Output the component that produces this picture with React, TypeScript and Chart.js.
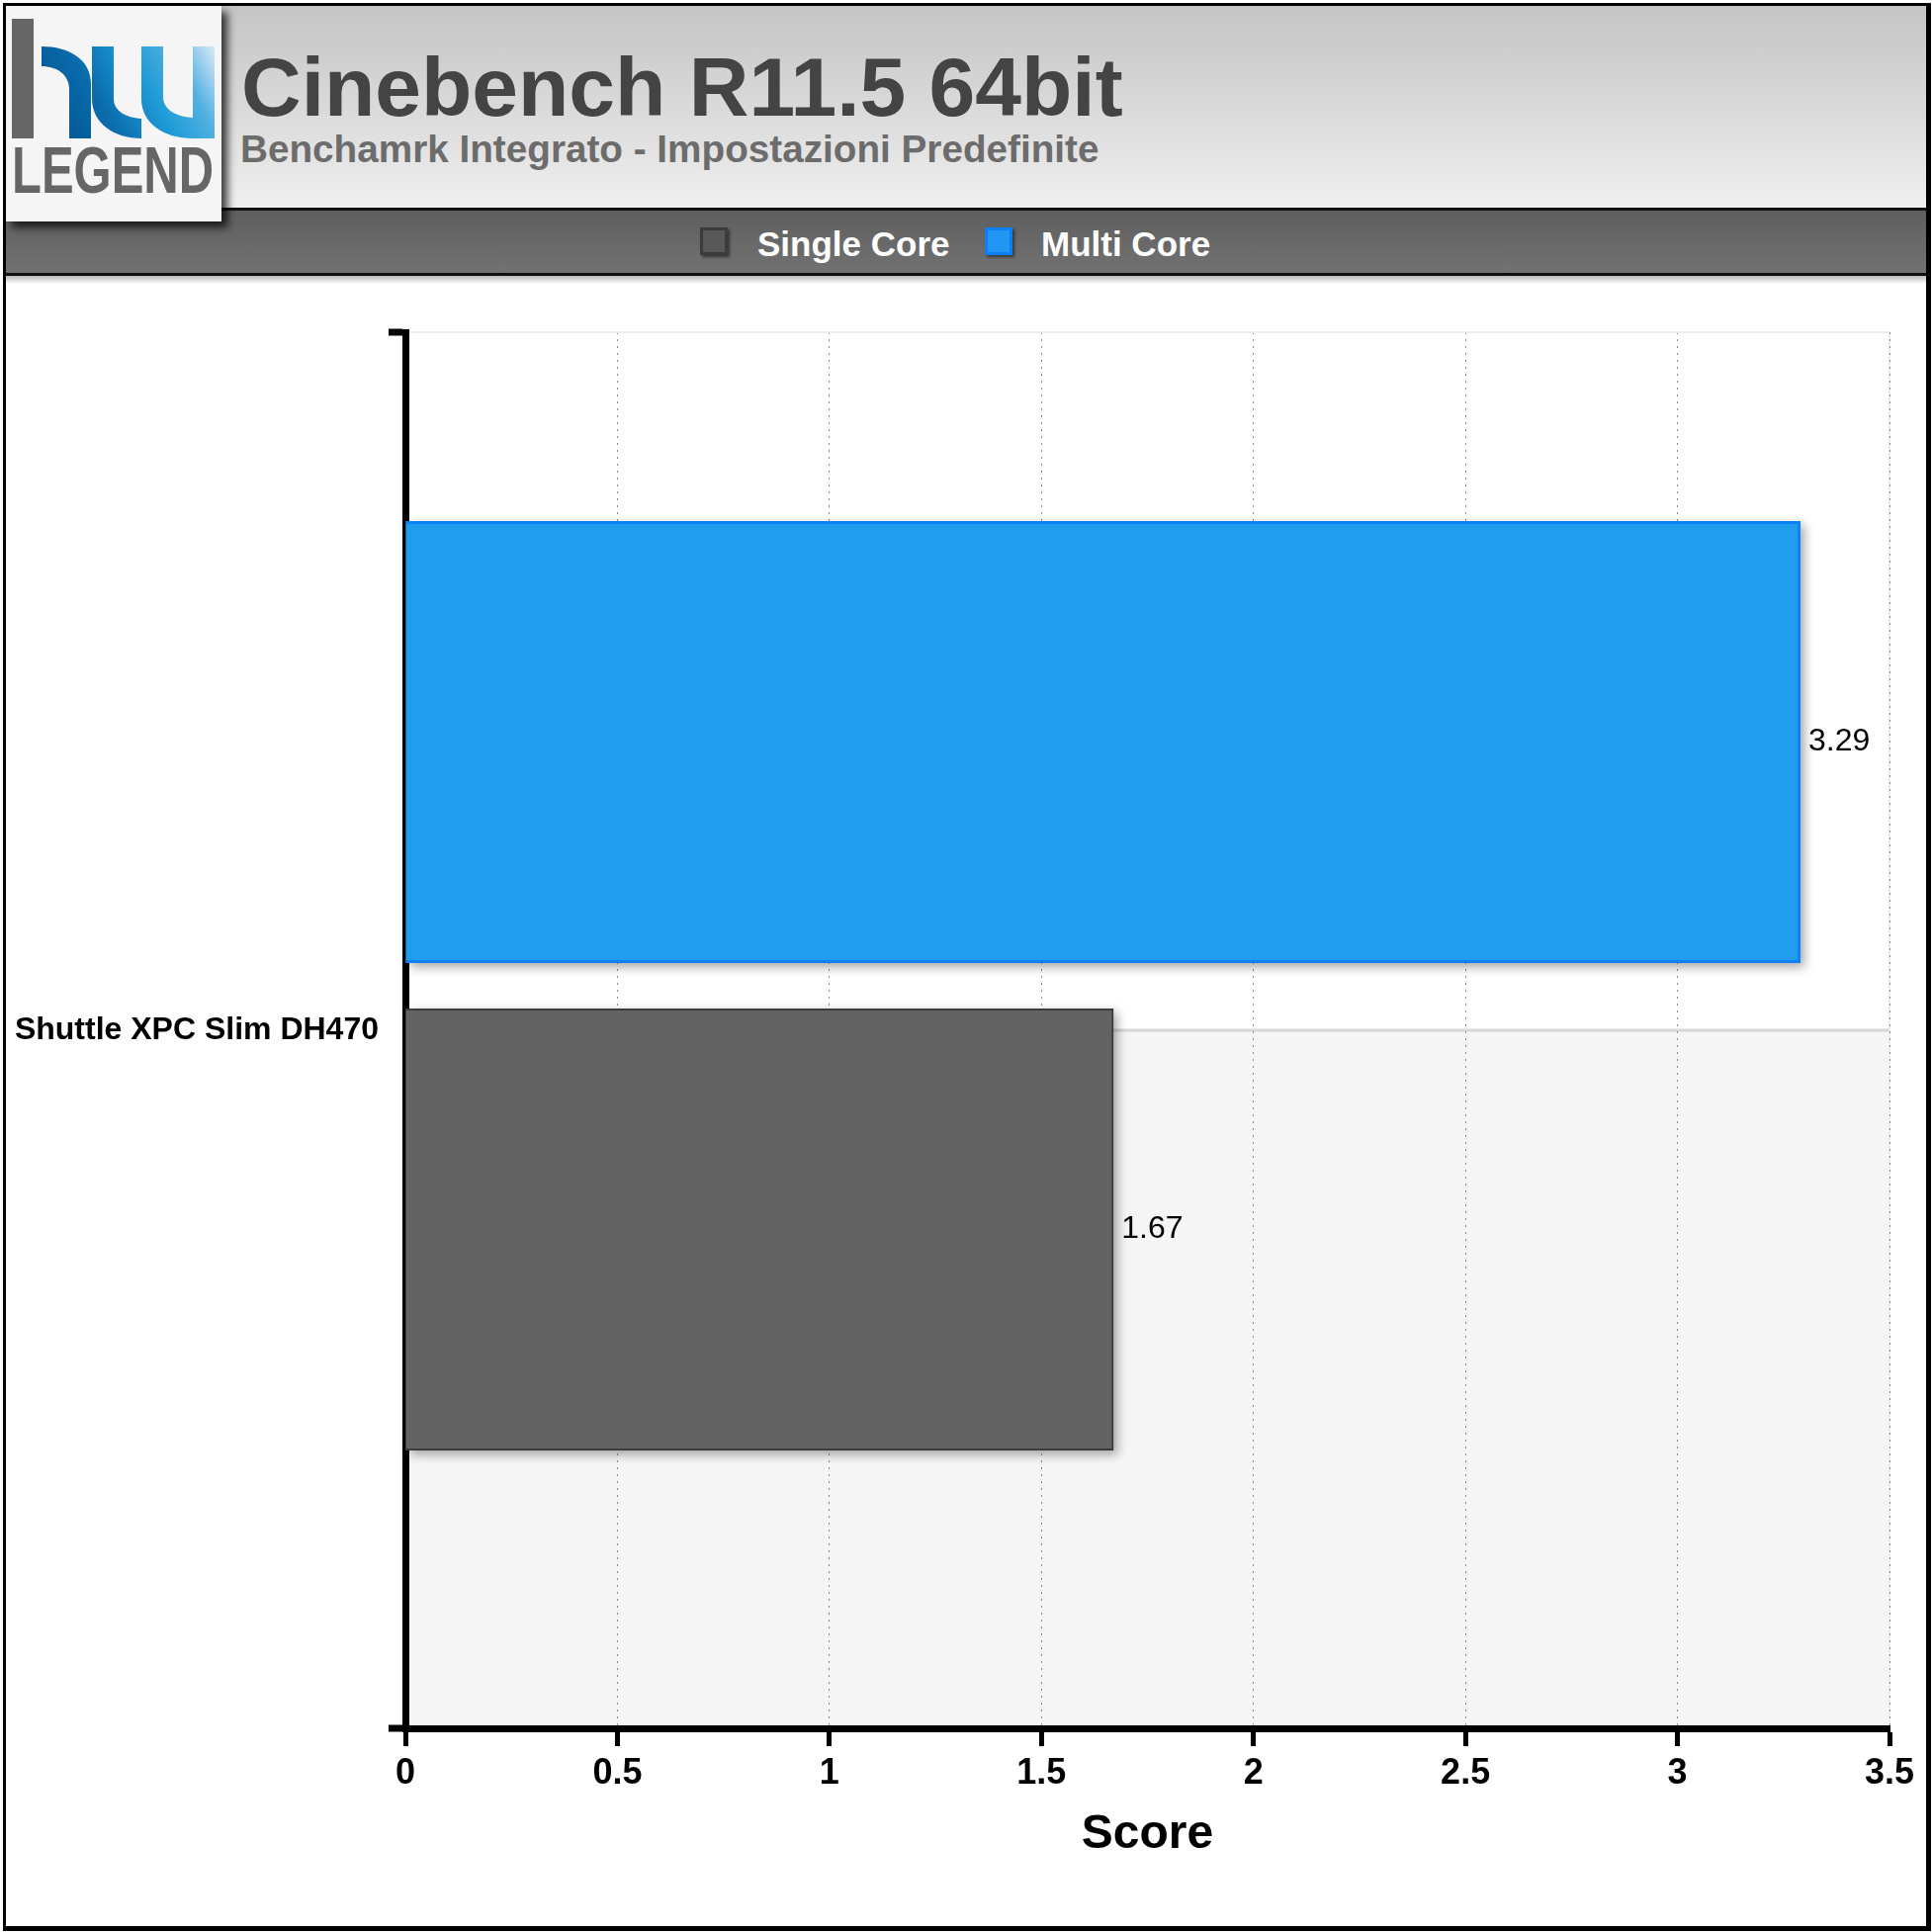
import React, { useEffect, useRef } from 'react';
import { Chart, registerables } from 'chart.js';

Chart.register(...registerables);

// ---------- data ----------
const categories = ['Shuttle XPC Slim DH470'];
const seriesNames = ['Multi Core', 'Single Core'];
const multiCore = [3.29];
const singleCore = [1.67];
const xTicks = [0, 0.5, 1, 1.5, 2, 2.5, 3, 3.5];
const xTickLabels = ['0', '0.5', '1', '1.5', '2', '2.5', '3', '3.5'];
const legendLabels = ['Single Core', 'Multi Core'];
const titleText = 'Cinebench R11.5 64bit';
const subtitleText = 'Benchamrk Integrato - Impostazioni Predefinite';
const axisTitle = 'Score';
const logoText = 'LEGEND';

// ---------- styles ----------
const FONT = '"Liberation Sans", Arial, Helvetica, sans-serif';
const MULTI_BG = '#219dee';
const MULTI_BORDER = '#0d82f4';
const SINGLE_BG = '#636363';
const SINGLE_BORDER = '#3d3d3d';

const decorPlugin = {
  id: 'decor',
  beforeDraw(chart: any) {
    const { ctx, chartArea: a, scales } = chart;
    const yc = scales.y.getPixelForValue(0);
    ctx.save();
    ctx.fillStyle = '#f5f5f5';
    ctx.fillRect(a.left, yc, a.right - a.left, a.bottom - yc);
    ctx.strokeStyle = '#d5d5d5';
    ctx.lineWidth = 3;
    ctx.beginPath();
    ctx.moveTo(a.left, yc);
    ctx.lineTo(a.right, yc);
    ctx.stroke();
    ctx.strokeStyle = '#ececec';
    ctx.lineWidth = 2;
    ctx.beginPath();
    ctx.moveTo(a.right, a.top);
    ctx.lineTo(a.right, a.bottom);
    ctx.stroke();
    ctx.restore();
  },
  beforeDatasetsDraw(chart: any) {
    const { ctx } = chart;
    chart.data.datasets.forEach((ds: any, i: number) => {
      const meta = chart.getDatasetMeta(i);
      meta.data.forEach((el: any) => {
        const { x, y, base, height } = el.getProps(['x', 'y', 'base', 'height'], true);
        ctx.save();
        ctx.shadowColor = 'rgba(0,0,0,0.35)';
        ctx.shadowBlur = 10;
        ctx.shadowOffsetX = 4;
        ctx.shadowOffsetY = 4;
        ctx.fillStyle = ds.backgroundColor;
        ctx.fillRect(Math.min(base, x), y - height / 2, Math.abs(x - base), height);
        ctx.restore();
      });
    });
  },
  afterDatasetsDraw(chart: any) {
    const { ctx } = chart;
    ctx.save();
    ctx.font = `32px ${FONT}`;
    ctx.fillStyle = '#000';
    ctx.textAlign = 'left';
    ctx.textBaseline = 'middle';
    chart.data.datasets.forEach((ds: any, i: number) => {
      const meta = chart.getDatasetMeta(i);
      meta.data.forEach((el: any, j: number) => {
        const v = ds.data[j];
        ctx.fillText(Number(v).toFixed(2), el.x + 8, el.y);
      });
    });
    ctx.restore();
  },
};

export default function App() {
  const ref = useRef<HTMLCanvasElement>(null);

  useEffect(() => {
    document.body.style.margin = '0';
    const canvas = ref.current;
    if (!canvas) return;
    Chart.defaults.font.family = FONT;
    const chart = new Chart(canvas, {
      type: 'bar',
      data: {
        labels: categories,
        datasets: [
          {
            label: seriesNames[0],
            data: multiCore,
            backgroundColor: MULTI_BG,
            borderColor: MULTI_BORDER,
            borderWidth: 3,
            yAxisID: 'yb',
            xAxisID: 'x',
            categoryPercentage: 0.7458,
            barPercentage: 0.9067,
          },
          {
            label: seriesNames[1],
            data: singleCore,
            backgroundColor: SINGLE_BG,
            borderColor: SINGLE_BORDER,
            borderWidth: 2,
            yAxisID: 'yb',
            xAxisID: 'x',
            categoryPercentage: 0.7458,
            barPercentage: 0.9067,
          },
        ],
      },
      options: {
        indexAxis: 'y',
        responsive: false,
        animation: false,
        devicePixelRatio: 1,
        layout: { padding: { top: 54, right: 37, bottom: 0, left: 0 } },
        plugins: {
          legend: { display: false },
          tooltip: { enabled: false },
        },
        scales: {
          x: {
            type: 'linear',
            position: 'bottom',
            min: xTicks[0],
            max: xTicks[xTicks.length - 1],
            afterBuildTicks: (s: any) => {
              s.ticks = xTicks.map((v) => ({ value: v }));
            },
            grid: {
              color: '#8a8a8a',
              lineWidth: 1,
              drawTicks: true,
              tickLength: 18,
              tickColor: '#000',
              tickWidth: 5,
              tickBorderDash: [],
            },
            border: { color: '#000', width: 7, dash: [2, 5] },
            ticks: {
              font: { size: 36, weight: 'bold' },
              color: '#000',
              padding: 6,
              callback: (value: any) => {
                const i = xTicks.indexOf(Number(value));
                return i >= 0 ? xTickLabels[i] : String(value);
              },
            },
            title: {
              display: true,
              text: axisTitle,
              font: { size: 48, weight: 'bold' },
              color: '#000',
              padding: { top: 0, bottom: 63 },
            },
            afterFit: (s: any) => {
              s.height = 200;
            },
          },
          y: {
            type: 'category',
            position: 'left',
            offset: true,
            weight: 0,
            grid: {
              offset: true,
              color: '#ececec',
              lineWidth: 2,
              drawTicks: true,
              tickLength: 17,
              tickColor: '#000',
              tickWidth: 7,
            },
            border: { color: '#000', width: 7 },
            ticks: {
              font: { size: 32, weight: 'bold' },
              color: '#000',
              padding: 10,
            },
            afterFit: (s: any) => {
              s.width = 403;
            },
          },
          yb: {
            type: 'category',
            position: 'left',
            display: false,
            offset: true,
            stack: 'bars',
            stackWeight: 1322,
            weight: 2,
          },
          yc: {
            type: 'category',
            position: 'left',
            display: false,
            offset: true,
            stack: 'bars',
            stackWeight: 90,
            weight: 1,
          },
        },
      } as any,
      plugins: [decorPlugin],
    });
    return () => chart.destroy();
  }, []);

  return (
    <div style={{ position: 'absolute', left: 0, top: 0, width: 1954, height: 1954, background: '#fff', fontFamily: FONT }}>
      <svg width={1954} height={292} style={{ position: 'absolute', left: 0, top: 0 }}>
        <defs>
          <linearGradient id="hdr" x1="0" y1="0" x2="0" y2="1">
            <stop offset="0" stopColor="#c4c4c4" />
            <stop offset="1" stopColor="#efefef" />
          </linearGradient>
          <linearGradient id="lbar" x1="0" y1="0" x2="0" y2="1">
            <stop offset="0" stopColor="#5e5e5e" />
            <stop offset="1" stopColor="#727272" />
          </linearGradient>
          <linearGradient id="shd" x1="0" y1="0" x2="0" y2="1">
            <stop offset="0" stopColor="rgba(0,0,0,0.28)" />
            <stop offset="1" stopColor="rgba(0,0,0,0)" />
          </linearGradient>
          <linearGradient id="logoBlue" gradientUnits="userSpaceOnUse" x1="42" y1="140" x2="217" y2="47">
            <stop offset="0" stopColor="#004f88" />
            <stop offset="0.35" stopColor="#0a6cad" />
            <stop offset="0.6" stopColor="#1e9ad6" />
            <stop offset="0.8" stopColor="#52b1e1" />
            <stop offset="1" stopColor="#dbe9f8" />
          </linearGradient>
          <filter id="logoShadow" x="-10%" y="-10%" width="140%" height="140%">
            <feDropShadow dx="6" dy="6" stdDeviation="4" floodColor="#000" floodOpacity="0.75" />
          </filter>
          <filter id="sqShadow" x="-30%" y="-30%" width="180%" height="180%">
            <feDropShadow dx="2" dy="2" stdDeviation="1.5" floodColor="#000" floodOpacity="0.5" />
          </filter>
        </defs>
        <rect x={6} y={6} width={1942} height={204} fill="url(#hdr)" />
        <rect x={6} y={210} width={1942} height={3} fill="#111" />
        <rect x={6} y={213} width={1942} height={63} fill="url(#lbar)" />
        <rect x={6} y={276} width={1942} height={3} fill="#111" />
        <rect x={6} y={279} width={1942} height={8} fill="url(#shd)" />

        <rect x={6} y={6} width={218} height={218} fill="#f5f5f5" filter="url(#logoShadow)" />
        <rect x={12} y={19} width={22} height={121} fill="#666" />
        <path d="M42,47 C70,47 92,60 92,85 L92,140 L70,140 L70,90 C70,76 58,67 42,67 Z" fill="url(#logoBlue)" />
        <path d="M93,47 L115,47 L115,100 C115,112 127,119 143,120 L143,140 C115,140 93,124 93,100 Z" fill="url(#logoBlue)" />
        <path d="M143,47 L165,47 L165,98 C165,110 177,118 195,119 L195,140 C165,140 143,124 143,100 Z" fill="url(#logoBlue)" />
        <rect x={195} y={47} width={22} height={93} fill="url(#logoBlue)" />
        <text x={12} y={195} fontSize={66} fontWeight="bold" fill="#666" textLength={204} lengthAdjust="spacingAndGlyphs" style={{ fontFamily: FONT }}>
          {logoText}
        </text>

        <text x={244} y={117} fontSize={84} fontWeight="bold" fill="#444" style={{ fontFamily: FONT }}>
          {titleText}
        </text>
        <text x={243} y={164} fontSize={38.7} fontWeight="bold" fill="#6c6c6c" style={{ fontFamily: FONT }}>
          {subtitleText}
        </text>

        <rect x={709.5} y={231.5} width={25} height={25} fill={'#595959'} stroke="#3a3a3a" strokeWidth={3} filter="url(#sqShadow)" />
        <text x={766} y={259} fontSize={35} fontWeight="bold" fill="#fff" style={{ fontFamily: FONT }}>
          {legendLabels[0]}
        </text>
        <rect x={997.5} y={231.5} width={25} height={25} fill={'#2196f3'} stroke="#0b7ff2" strokeWidth={3} filter="url(#sqShadow)" />
        <text x={1053} y={259} fontSize={35} fontWeight="bold" fill="#fff" style={{ fontFamily: FONT }}>
          {legendLabels[1]}
        </text>
      </svg>

      <canvas
        ref={ref}
        width={1941}
        height={1666}
        style={{ position: 'absolute', left: 7, top: 282, width: 1941, height: 1666 }}
      />

      <div
        style={{
          position: 'absolute',
          left: 3,
          top: 3,
          width: 1950,
          height: 1950,
          boxSizing: 'border-box',
          borderTop: '3px solid #000',
          borderLeft: '3px solid #000',
          borderRight: '5px solid #000',
          borderBottom: '5px solid #000',
          pointerEvents: 'none',
        }}
      />
    </div>
  );
}
